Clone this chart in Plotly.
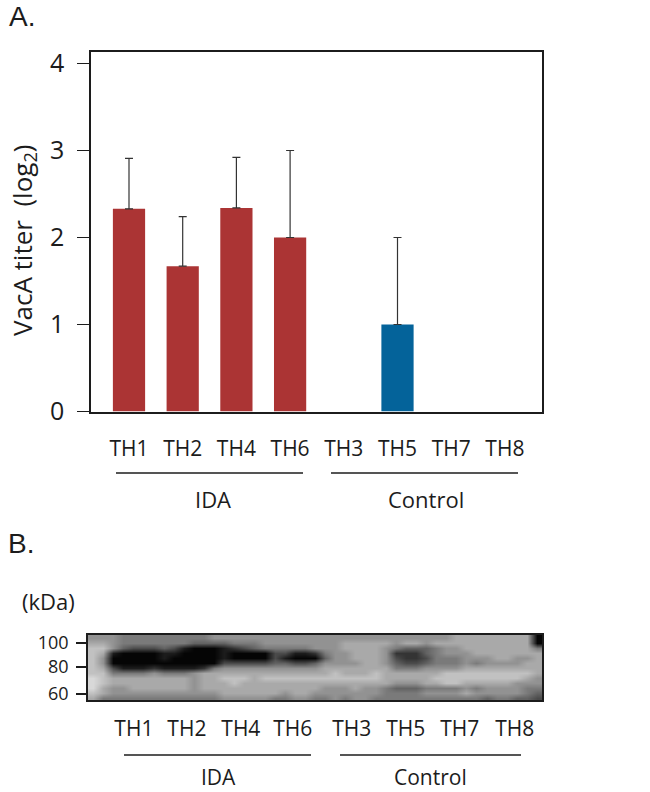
import plotly.graph_objects as go

W, H = 650, 792
FONT = "Open Sans"
INK = "#1c1c1c"

# Panel A data
samples = ["TH1", "TH2", "TH4", "TH6", "TH3", "TH5", "TH7", "TH8"]
titer = [2.33, 1.67, 2.34, 2.0, None, 1.0, None, None]
titer_err = [0.58, 0.57, 0.58, 1.0, None, 1.0, None, None]
bar_colors = ["#ab3434"] * 4 + ["#04639a"] * 4
y_ticks = [0, 1, 2, 3, 4]

# Panel B data: grey level of the blot (0 = black, 9 = pale), read on a coarse grid
blot_rows = [
    "66655 55555 55666 66666 66666 66666 66666 67777 77770",
    "77655 55555 44445 55666 66666 77777 67767 77777 77770",
    "88643 33431 00012 34555 55666 77776 54445 66777 77775",
    "87100 00110 00010 00033 11256 67776 22245 66677 77777",
    "86000 00100 00010 00031 00046 67776 32235 55666 77667",
    "86000 00000 00033 33344 33466 66776 43345 55656 66677",
    "87311 12111 12566 66666 66677 77777 55566 66777 77777",
    "88555 56555 67777 77777 77778 77787 77777 88888 88887",
    "98777 77777 67788 87888 88888 88887 77778 88888 88876",
    "98777 77777 67778 77777 77777 77777 66677 88777 77666",
    "97667 77777 67777 77777 77766 67665 44455 55656 66655",
    "87666 66666 66677 77776 77666 66665 55566 66766 66654",
    "75555 55555 55566 66655 66556 56655 55555 55554 55443",
]
blot_ticks = ["100", "80", "60"]
blot_tick_rows = [1.6, 6.4, 11.8]
lane_cols = [4.55, 9.8, 15.15, 20.3, 26.15, 31.5, 36.85, 42.3]

blot = [[int(c) for c in row.replace(" ", "")] for row in blot_rows]
n_rows, n_cols = len(blot), len(blot[0])

M_T, M_B = 40, 30
PLOT_H = H - M_T - M_B

def px(x):
    return x / W

def py(y):
    return 1 - (y - M_T) / PLOT_H

A_L, A_R, A_T, A_B = 91, 542, 52, 411.5
B_L, B_R, B_T, B_B = 88, 542, 635, 700
UNIT_X, UNIT_Y = 53.7, 87.0

fig = go.Figure()

fig.add_trace(go.Bar(
    x=list(range(len(samples))), y=titer, width=0.6,
    marker=dict(color=bar_colors, line=dict(width=0)),
    error_y=dict(type="data", symmetric=False, array=titer_err,
                 arrayminus=[0] * len(titer), color="#333333", thickness=1.2, width=4),
    xaxis="x", yaxis="y", showlegend=False,
))

fig.add_trace(go.Heatmap(
    z=blot, x=[i + 0.5 for i in range(n_cols)], y=[i + 0.5 for i in range(n_rows)],
    zmin=0, zmax=9, zsmooth="best", showscale=False,
    colorscale=[[0, "#050505"], [1, "#d8d8d8"]],
    xaxis="x2", yaxis="y2",
))

line_style = dict(showline=True, linecolor=INK, linewidth=1.6, mirror=True, showgrid=False, zeroline=False)
fig.update_layout(
    width=W, height=H, margin=dict(l=0, r=0, t=M_T, b=M_B),
    paper_bgcolor="white", plot_bgcolor="white", bargap=0.4,
    font=dict(family=FONT, color=INK, size=22),
    xaxis=dict(domain=[px(A_L), px(A_R)], range=[(A_L - 129) / UNIT_X, (A_R - 129) / UNIT_X],
               tickvals=list(range(len(samples))), ticktext=samples, ticks="outside", ticklen=17,
               tickcolor="rgba(0,0,0,0)", tickfont=dict(size=21), **line_style),
    yaxis=dict(domain=[py(A_B), py(A_T)], range=[0, (A_B - A_T) / UNIT_Y], tickvals=y_ticks,
               ticks="outside", ticklen=12, tickwidth=1.4, tickcolor=INK, ticklabelstandoff=8,
               tickfont=dict(size=25), **line_style),
    xaxis2=dict(domain=[px(B_L), px(B_R)], range=[0, n_cols], anchor="y2",
                tickvals=lane_cols, ticktext=samples, ticks="outside", ticklen=9,
                tickcolor="rgba(0,0,0,0)", tickfont=dict(size=21), **line_style),
    yaxis2=dict(domain=[py(B_B), py(B_T)], range=[n_rows, 0], anchor="x2",
                tickvals=blot_tick_rows, ticktext=blot_ticks, ticks="outside", ticklen=10,
                tickwidth=1.6, tickcolor=INK, ticklabelstandoff=4, tickfont=dict(size=18), **line_style),
)

def label(text, x, y, size=22, family=FONT, **kw):
    fig.add_annotation(text=text, x=px(x), y=py(y), xref="paper", yref="paper",
                       showarrow=False, font=dict(size=size, family=family),
                       xanchor="center", yanchor="middle", **kw)

def rule(x0, x1, y):
    fig.add_shape(type="line", x0=px(x0), x1=px(x1), y0=py(y), y1=py(y), xref="paper", yref="paper",
                  line=dict(color=INK, width=1.4))

label("A.", 22, 17, 28, family="Liberation Sans")
label("B.", 21, 543, 28, family="Liberation Sans")
label("(kDa)", 48, 601, 22)
label("VacA titer  (log<sub>2</sub>)", 23, 240, 26, textangle=-90)
rule(116, 303, 473)
rule(331, 518, 473)
label("IDA", 213, 499)
label("Control", 426, 499)
rule(124, 311, 755)
rule(340, 521, 755)
label("IDA", 218, 777, 21)
label("Control", 430, 777, 21)

fig.write_html("out.html", config=dict(displayModeBar=False),
               post_script="document.body.style.margin='0';")
